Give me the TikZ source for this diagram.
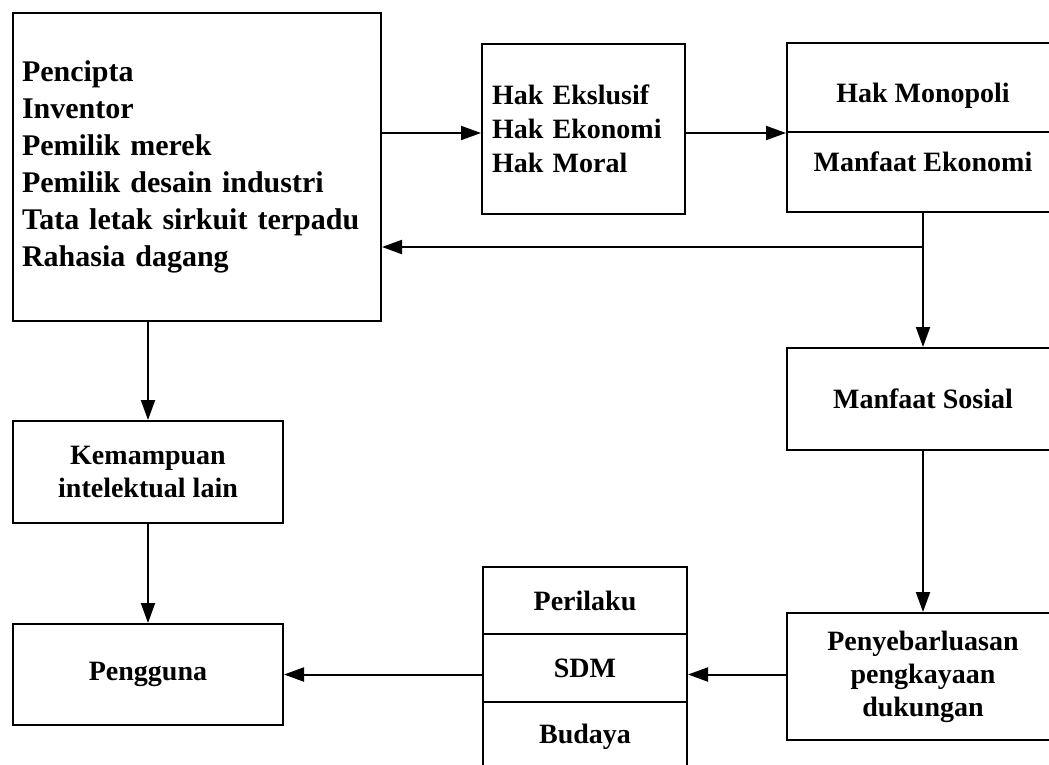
\documentclass[tikz,border=0pt]{standalone}
\usepackage{fontspec}
\setmainfont{Liberation Serif}
\usetikzlibrary{arrows.meta,positioning}
\tikzset{
  box/.style={draw,line width=2pt,inner sep=0pt,align=center,
    font=\bfseries\fontsize{28}{33}\selectfont},
  arr/.style={line width=2pt,-{Triangle[length=20pt,width=14pt]}}
}
\begin{document}
\begin{tikzpicture}[x=1pt,y=-1pt]
\useasboundingbox (0,0) rectangle (1049,764);
\clip (0,0) rectangle (1049,764);
% nodes
\node [box,minimum width=368pt,minimum height=308pt,text width=350pt,align=left,
  font=\bfseries\fontsize{30}{37}\selectfont] (pemilik) at (197,167)
  {Pencipta\\Inventor\\Pemilik merek\\Pemilik desain industri\\Tata letak sirkuit terpadu\\Rahasia dagang};
\node [box,minimum width=203pt,minimum height=170pt,text width=183pt,align=left,
  font=\bfseries\fontsize{28}{34}\selectfont] (hak) at (583.5,129)
  {Hak Ekslusif\\Hak Ekonomi\\Hak Moral};
\node [box,minimum width=272pt,minimum height=89pt,text height=30pt,text depth=1pt] (mono) at (923,87.5) {Hak Monopoli};
\node [box,minimum width=272pt,minimum height=80pt,text height=19pt,text depth=21pt] (ekon) at (923,172) {Manfaat Ekonomi};
\node [box,minimum width=272pt,minimum height=102pt] (sosial) at (923,399) {Manfaat Sosial};
\node [box,minimum width=272pt,minimum height=127pt] (peny) at (923,676.5) {Penyebarluasan\\pengkayaan\\dukungan};
\node [box,minimum width=204pt,minimum height=67pt] (perilaku) at (585,600.5) {Perilaku};
\node [box,minimum width=204pt,minimum height=68pt] (sdm) at (585,668) {SDM};
\node [box,minimum width=204pt,minimum height=70pt] (budaya) at (585,737) {Budaya};
\node [box,minimum width=270pt,minimum height=102pt] (kemampuan) at (148,472) {Kemampuan\\intelektual lain};
\node [box,minimum width=270pt,minimum height=101pt] (pengguna) at (148,674.5) {Pengguna};

% arrows
\coordinate (fork) at (ekon.south |- 0,247);
\draw [arr] (pemilik.east |- mono.south west) -- (hak.west |- mono.south west);
\draw [arr] (hak.east |- mono.south west) -- (mono.south west);
\draw [arr] (ekon.south) -- (sosial.north);
\draw [arr] (fork) -- (fork -| pemilik.east);
\draw [arr] (sosial.south) -- (peny.north);
\draw [arr] (peny.west |- pengguna.east) -- (sdm.east |- pengguna.east);
\draw [arr] (sdm.west |- pengguna.east) -- (pengguna.east);
\draw [arr] (kemampuan.north |- pemilik.south) -- (kemampuan.north);
\draw [arr] (kemampuan.south) -- (pengguna.north);

\end{tikzpicture}
\end{document}
